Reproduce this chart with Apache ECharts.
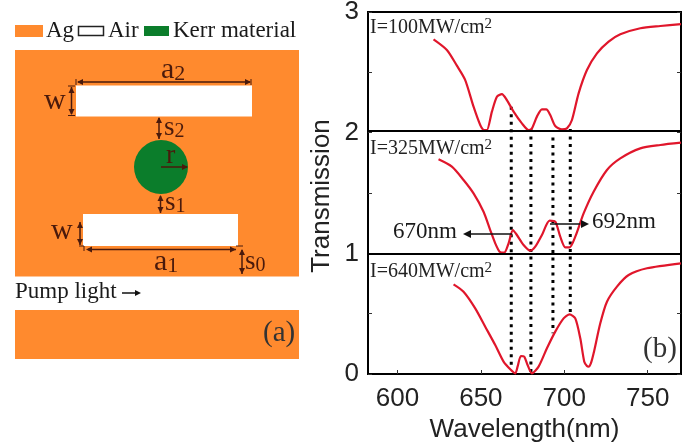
<!DOCTYPE html>
<html><head><meta charset="utf-8">
<style>html,body{margin:0;padding:0;background:#fff}#c{width:685px;height:444px}</style>
<script src="https://cdn.jsdelivr.net/npm/echarts@6/dist/echarts.min.js"></script>
</head><body><div id="c"></div>
<script>
const xTicks = [600, 650, 700, 750];
const yLabels = [0, 1, 2, 3];
const yTicks = [0, 0.5, 1, 1.5, 2, 2.5, 3];
const curve100 = [[621.6,2.773],[629.6,2.685],[635.6,2.555],[640.6,2.436],[645.6,2.215],[649.6,2.064],[652,2.022],[653.6,2.022],[656.6,2.174],[659.6,2.298],[662.6,2.32],[665.6,2.27],[669.6,2.174],[674.6,2.077],[678.6,2.022],[680.6,2.036],[683.6,2.133],[686.6,2.193],[689.2,2.193],[691.6,2.146],[694.6,2.055],[698.6,2.028],[701.6,2.036],[704.6,2.105],[708.6,2.326],[713.6,2.519],[719.6,2.657],[726.6,2.754],[733.6,2.815],[745.6,2.865],[757.6,2.884],[770,2.9]];
const curve325 = [[624.6,1.779],[632.6,1.718],[639.6,1.608],[645.6,1.497],[651.6,1.345],[655.6,1.193],[658.6,1.083],[661.2,1.014],[664,1.006],[666.6,1.083],[669.2,1.193],[671.6,1.152],[675.6,1.069],[679.6,1.022],[682.6,1.055],[686.6,1.152],[691.2,1.271],[694.6,1.262],[697.6,1.138],[700.6,1.05],[703.2,1.05],[706.6,1.138],[711.6,1.331],[717.6,1.511],[725.6,1.691],[733.6,1.787],[745.6,1.87],[757.6,1.898],[770,1.917]];
const curve640 = [[633.6,0.743],[639.6,0.682],[646.6,0.544],[652.6,0.392],[658.6,0.24],[663.6,0.102],[667.6,0.039],[670.6,0.006],[672,0.061],[674,0.149],[676,0.144],[678,0.075],[680.6,0.006],[684.6,0.061],[689.6,0.213],[694.6,0.351],[699.6,0.461],[703.2,0.494],[706.6,0.461],[709.6,0.296],[712,0.102],[713.6,0.066],[714.6,0.061],[716,0.09],[717.6,0.171],[721.6,0.42],[725.6,0.599],[731.6,0.724],[738.6,0.82],[749.6,0.876],[770,0.917]];
const dividers = [2.014, 0.994];
const dotted = [[668.2,2.215,0.04],[680,2.03,0],[693.2,1.96,0.337],[703.6,2.03,0.494]];
const labels = ['I=100MW/cm', 'I=325MW/cm', 'I=640MW/cm'];

const ORANGE = '#FF8A2E', GREEN = '#0B7D2B', DIM = '#4A1A0C';
const serif = '"Liberation Serif"';
const rect = (x, y, w, h, fill, stroke) => ({type:'rect', shape:{x,y,width:w,height:h}, style:{fill, stroke:stroke||null, lineWidth:stroke?1.5:0}});
const text = (x, y, t, size, fill, extra) => ({type:'text', x, y, style:Object.assign({text:t, font:size+'px '+serif, fill:fill||'#1a1a1a', verticalAlign:'middle', align:'left'}, extra||{})});
const line = (x1, y1, x2, y2, c, w) => ({type:'line', shape:{x1,y1,x2,y2}, style:{stroke:c||DIM, lineWidth:w||1.5}});
const head = (x, y, dir, c, s) => {
  s = s || 3;
  const pts = dir==='l' ? [[x,y],[x+s*2,y-s],[x+s*2,y+s]] : dir==='r' ? [[x,y],[x-s*2,y-s],[x-s*2,y+s]] :
              dir==='u' ? [[x,y],[x-s,y+s*2],[x+s,y+s*2]] : [[x,y],[x-s,y-s*2],[x+s,y-s*2]];
  return {type:'polygon', shape:{points:pts}, style:{fill:c||DIM}};
};
const sub = (x, y, a, b, size, subSize) => ({type:'text', x, y, style:{
  text:'{a|'+a+'}{b|'+b+'}', verticalAlign:'middle', align:'left',
  rich:{a:{font:size+'px '+serif, fill:DIM}, b:{font:(subSize||size-6)+'px '+serif, fill:DIM, padding:[8,0,0,0]}}}});
const intensity = (x, y, t) => ({type:'text', x, y, style:{
  text:'{a|'+t+'}{b|2}', verticalAlign:'middle', align:'left',
  rich:{a:{font:'20px '+serif, fill:'#222'}, b:{font:'15px '+serif, fill:'#222', padding:[0,0,7,0]}}}});

const graphics = [
  rect(15,25,28,12,ORANGE), text(46,31,'Ag',23),
  rect(78.5,26.5,25,9,'#fff','#222'), text(108,31,'Air',23),
  rect(144,26,25,10,GREEN), text(173,31,'Kerr material',23),
  rect(15,50,284,226.5,ORANGE), rect(15,310,284,49,ORANGE),
  rect(76,85.5,176,31,'#fff'), rect(83,214,155,32,'#fff'),
  {type:'circle', shape:{cx:161,cy:167,r:27}, style:{fill:GREEN}},
  // a2
  line(78,82,250,82), line(76,79,76,85,DIM,1), line(251,79,251,85,DIM,1), head(77,82,'l'), head(251,82,'r'),
  sub(161,70,'a','2',30,22),
  // w upper
  line(71.5,87,71.5,114), line(68,86,75,86,DIM,1), line(68,115.5,75,115.5,DIM,1), head(71.5,87,'u'), head(71.5,115,'d'),
  text(44,101,'w',30,DIM),
  // s2
  line(159,118,159,139), head(159,117,'u'), head(159,139,'d'), sub(164,128,'s','2',27,20),
  // r
  text(166,156,'r',28,DIM), line(161,167,187,167,DIM,1.5), head(188,167,'r'),
  // s1
  line(160.5,196,160.5,213), head(160.5,195,'u'), head(160.5,213,'d'), sub(165,203,'s','1',27,20),
  // w lower
  line(80,222,80,245), head(80,222,'u'), head(80,245,'d'), text(51,231,'w',30,DIM),
  line(79,246,84,246,DIM,1), line(84,246,84,251,DIM,1),
  // a1
  line(88,249.5,236,249.5), head(86,249.5,'l'), head(236,249.5,'r'),
  sub(154,262,'a','1',30,22),
  // s0
  line(236,246,243,246,DIM,1), line(242,250,242,274), head(242,249,'u'), head(242,274,'d'),
  sub(245,262,'s','0',27,20),
  // pump
  text(15,292,'Pump light',23), line(122,293,137,293,'#111',1.5), head(141,293,'r','#111',3),
  text(263,333,'(a)',29,'#333'),
  // intensity labels
  intensity(370,28,labels[0]), intensity(370,149,labels[1]), intensity(370,272,labels[2]),
  // wavelength markers
  line(468,234,512,234,'#111',1.5), head(463,234,'l','#111',4), text(393,232,'670nm',23),
  line(550,224,580,224,'#111',1.5), head(589,224,'r','#111',4), text(592,222,'692nm',23),
  text(643,349,'(b)',29,'#333')
].map(g => Object.assign({z:100}, g));

const redLine = d => ({type:'line', data:d, showSymbol:false, smooth:0.25, lineStyle:{color:'#E0162B', width:2.2}, z:5});
const series = [redLine(curve100), redLine(curve325), redLine(curve640)];
dividers.forEach(v => series.push({type:'line', data:[[582.3,v],[770,v]], showSymbol:false, lineStyle:{color:'#000', width:2}, z:6}));
dotted.forEach(d => series.push({type:'line', data:[[d[0],d[1]],[d[0],d[2]]], showSymbol:false, lineStyle:{color:'#000', width:3, type:[3,4.5]}, z:4}));

const chart = echarts.init(document.getElementById('c'), null, {renderer:'canvas'});
chart.setOption({
  animation:false,
  backgroundColor:'#fff',
  grid:{left:368, right:4, top:12, bottom:70, outerBoundsMode:'none', show:true, borderColor:'#000', borderWidth:2, backgroundColor:'transparent'},
  xAxis:{type:'value', min:582.3, max:770,
    name:'Wavelength(nm)', nameLocation:'middle', nameGap:41,
    nameTextStyle:{fontFamily:'Liberation Sans', fontSize:26, color:'#222'},
    splitLine:{show:false}, axisLine:{lineStyle:{color:'#000', width:2}},
    axisTick:{inside:true, length:4, lineStyle:{color:'#333'}, customValues:xTicks},
    axisLabel:{customValues:xTicks, fontFamily:'Liberation Sans', fontSize:26, color:'#222', margin:12}},
  yAxis:[{type:'value', min:0, max:3,
    name:'Transmission', nameLocation:'middle', nameGap:33,
    nameTextStyle:{fontFamily:'Liberation Sans', fontSize:26, color:'#222', padding:[0,6,0,0]},
    splitLine:{show:false}, axisLine:{lineStyle:{color:'#000', width:2}},
    axisTick:{inside:true, length:4, lineStyle:{color:'#333'}, customValues:yTicks},
    axisLabel:{customValues:yLabels, fontFamily:'Liberation Sans', fontSize:26, color:'#222', margin:9, padding:[5,0,0,0]}},
   {type:'value', min:0, max:3, position:'right',
    splitLine:{show:false}, axisLine:{show:false},
    axisTick:{inside:true, length:4, lineStyle:{color:'#333'}, customValues:yTicks},
    axisLabel:{show:false}}],
  series:series,
  graphic:{elements:graphics}
});
</script></body></html>
